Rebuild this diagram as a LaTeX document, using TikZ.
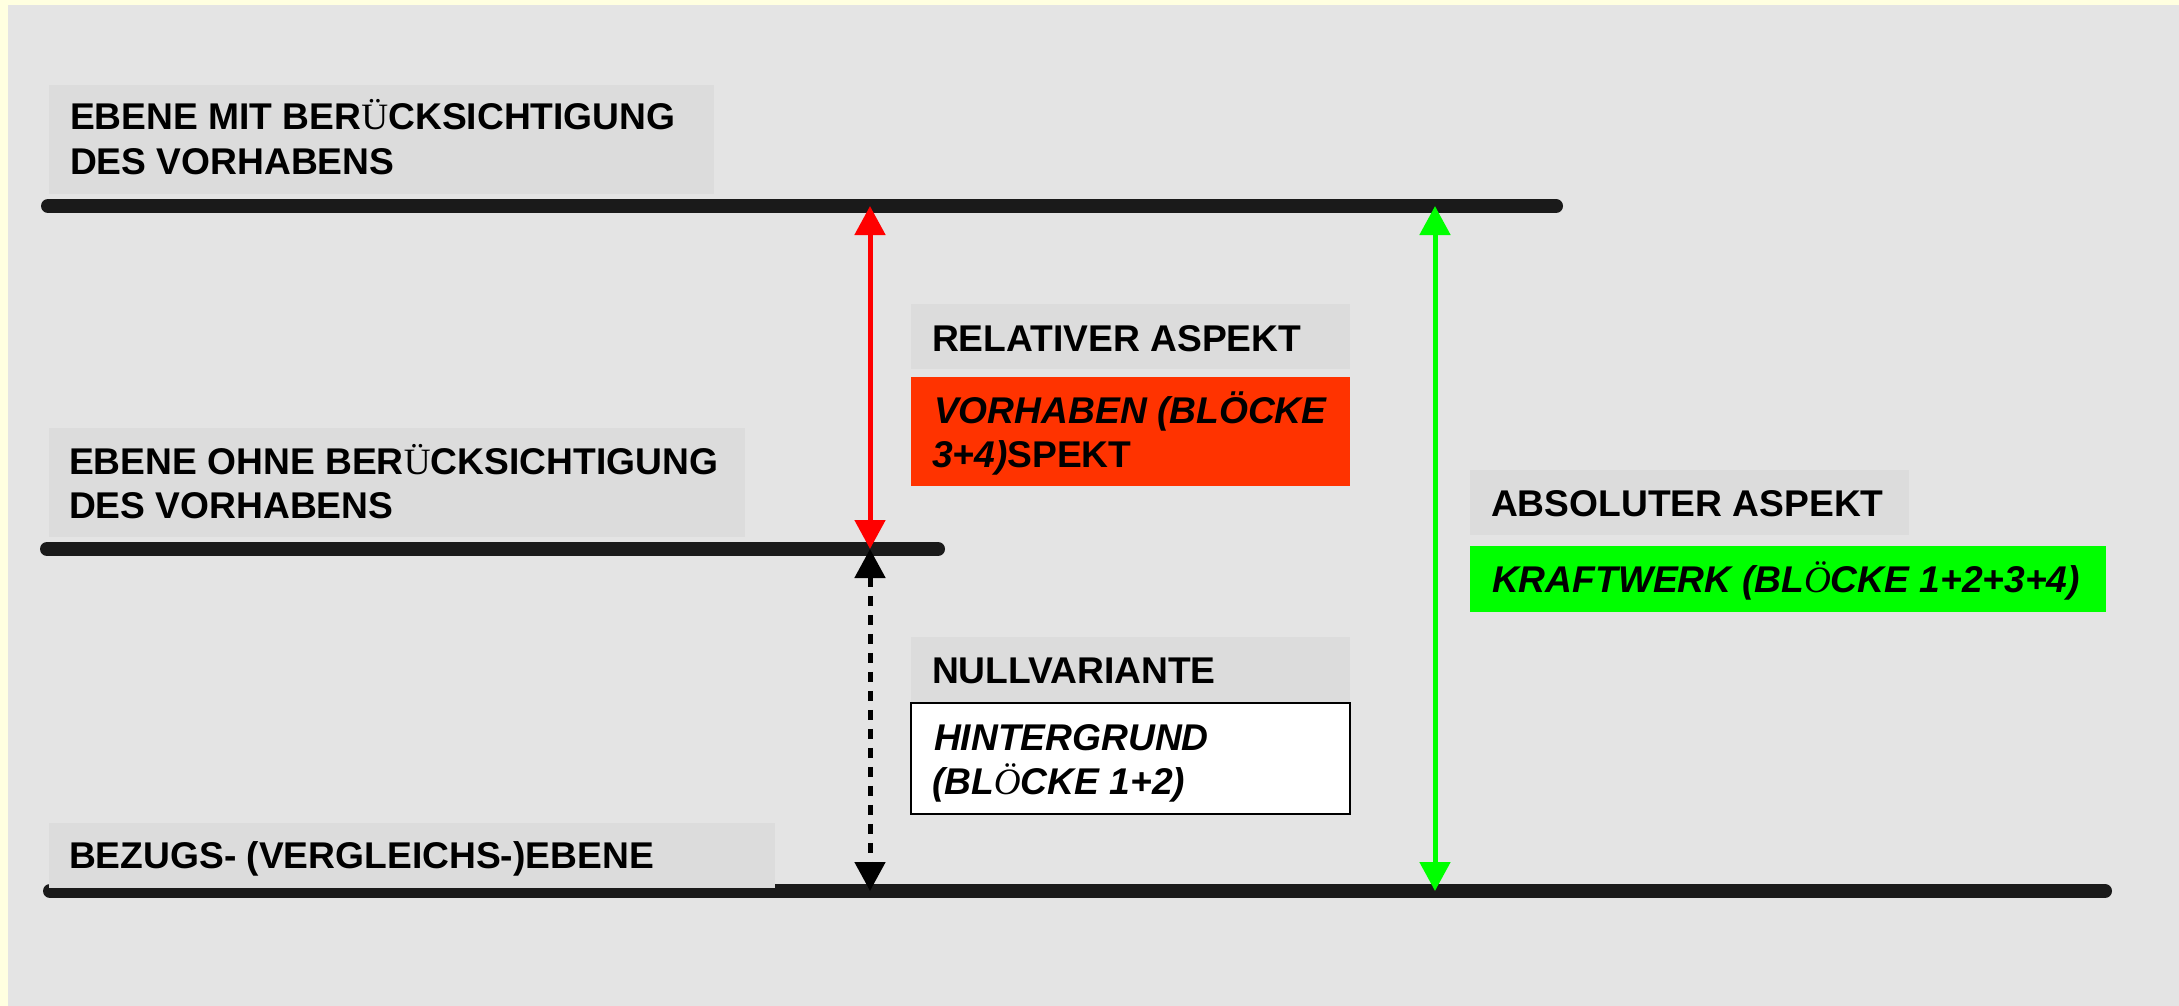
\documentclass[tikz,border=0pt]{standalone}
\usepackage{fontspec}
\setmainfont{Liberation Sans}
\newfontfamily\tms{Liberation Serif}
\usetikzlibrary{arrows.meta}
\definecolor{paperyellow}{HTML}{FFFFE0}
\definecolor{panelgray}{HTML}{E4E4E4}
\definecolor{labelgray}{HTML}{DCDCDC}
\definecolor{levelblack}{HTML}{1A1A1A}
\definecolor{vorred}{HTML}{FF3300}
\definecolor{arrred}{HTML}{FF0000}
\definecolor{kraftgreen}{HTML}{00FF00}
\newcommand{\serifU}{{\tms\mdseries\upshape Ü}}
\newcommand{\serifO}{{\tms\mdseries\itshape Ö}}
\begin{document}
\begin{tikzpicture}[x=1pt,y=-1pt,
  levelline/.style={line width=14pt, levelblack, line cap=round},
  boxshape/.style={rectangle, inner sep=0pt, outer sep=0pt, anchor=north west, draw=none},
  greybox/.style={boxshape, fill=labelgray},
  lbl/.style={inner sep=0pt, outer sep=0pt, anchor=base west, font=\fontsize{37.2}{44}\selectfont\bfseries},
  lbli/.style={lbl, font=\fontsize{37.2}{44}\selectfont\bfseries\itshape},
  measure/.style={line width=5pt, {Triangle[length=29pt, width=30pt]}-{Triangle[length=29pt, width=30pt]}}
]
\useasboundingbox (0,0) rectangle (2179,1006);
\fill[paperyellow] (0,0) rectangle (2179,1006);
\fill[panelgray] (7.6,5) rectangle (2179,1006);

% level lines
\coordinate (l1a) at (48,206);  \coordinate (l1b) at (1556,206);
\coordinate (l2a) at (47,549);  \coordinate (l2b) at (938,549);
\coordinate (l3a) at (50,891);  \coordinate (l3b) at (2105,891);
\draw[levelline] (l1a) -- (l1b);
\draw[levelline] (l2a) -- (l2b);
\draw[levelline] (l3a) -- (l3b);

% label boxes
\node[greybox, minimum width=665pt, minimum height=109pt] (b1) at (49,85) {};
\node[greybox, minimum width=696pt, minimum height=109pt] (b2) at (49,428) {};
\node[greybox, minimum width=726pt, minimum height=65pt] (b3) at (49,823) {};
\node[greybox, minimum width=439pt, minimum height=65pt] (brel) at (911,304) {};
\node[boxshape, fill=vorred, minimum width=439pt, minimum height=109pt] (bvor) at (911,377) {};
\node[greybox, minimum width=439pt, minimum height=65pt] (bnul) at (911,637) {};
\node[boxshape, fill=white, draw=black, line width=2pt, minimum width=439pt, minimum height=111pt] (bhin) at (911,703) {};
\node[greybox, minimum width=439pt, minimum height=65pt] (babs) at (1470,470) {};
\node[boxshape, fill=kraftgreen, minimum width=636pt, minimum height=66pt] (bkra) at (1470,546) {};

% texts
\node[lbl] (t1a) at (70,130) {EBENE MIT BER\serifU CKSICHTIGUNG};
\node[lbl] (t1b) at (70,174) {DES VORHABENS};
\node[lbl] (t2a) at (69,474) {EBENE OHNE BER\serifU CKSICHTIGUNG};
\node[lbl] (t2b) at (69,518) {DES VORHABENS};
\node[lbl] (t3) at (69,868) {BEZUGS- (VERGLEICHS-)EBENE};
\node[lbl] (trel) at (932,351) {RELATIVER ASPEKT};
\node[lbli] (tvora) at (934,423) {VORHABEN (BLÖCKE};
\node[lbl] (tvorb) at (932,467) {\itshape 3+4)\upshape SPEKT};
\node[lbl] (tnul) at (932,683) {NULLVARIANTE};
\node[lbli] (thina) at (934,750) {HINTERGRUND};
\node[lbli] (thinb) at (932,794) {(BL\serifO CKE 1+2)};
\node[lbl] (tabs) at (1491,516) {ABSOLUTER ASPEKT};
\node[lbli] (tkra) at (1492,592) {KRAFTWERK (BL\serifO CKE 1+2+3+4)};

% measurement arrows
\coordinate (r1) at (870,206);
\coordinate (r2) at (870,549);
\coordinate (r3) at (870,891);
\coordinate (g1) at (1435,206);
\coordinate (g3) at (1435,891);
\draw[measure, arrred] (r1) -- (r2);
\draw[measure, black, dash pattern=on 10pt off 9pt] (r2) -- (r3);
\draw[measure, kraftgreen] (g1) -- (g3);
\end{tikzpicture}
\end{document}
